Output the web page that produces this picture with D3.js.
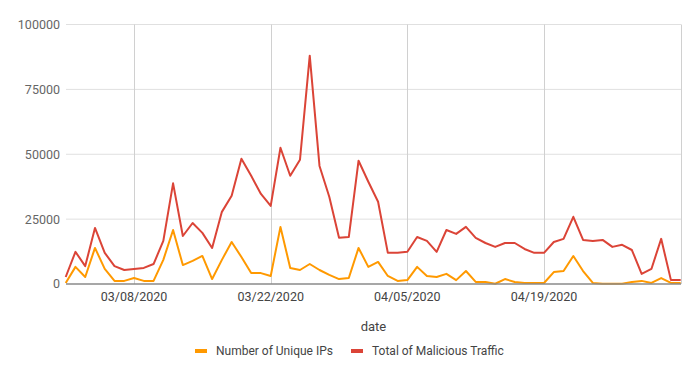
<!DOCTYPE html>
<html>
<head>
<meta charset="utf-8">
<script src="https://cdn.jsdelivr.net/npm/d3@7"></script>
<style>
  body { margin: 0; background: #fff; }
  text { font-family: Roboto, "Noto Sans", sans-serif; }
</style>
</head>
<body>
<div id="chart"></div>
<script>
// daily dates, 03/01/2020 .. 05/03/2020
var dates = [
  "2020-03-01","2020-03-02","2020-03-03","2020-03-04","2020-03-05","2020-03-06","2020-03-07",
  "2020-03-08","2020-03-09","2020-03-10","2020-03-11","2020-03-12","2020-03-13","2020-03-14",
  "2020-03-15","2020-03-16","2020-03-17","2020-03-18","2020-03-19","2020-03-20","2020-03-21",
  "2020-03-22","2020-03-23","2020-03-24","2020-03-25","2020-03-26","2020-03-27","2020-03-28",
  "2020-03-29","2020-03-30","2020-03-31","2020-04-01","2020-04-02","2020-04-03","2020-04-04",
  "2020-04-05","2020-04-06","2020-04-07","2020-04-08","2020-04-09","2020-04-10","2020-04-11",
  "2020-04-12","2020-04-13","2020-04-14","2020-04-15","2020-04-16","2020-04-17","2020-04-18",
  "2020-04-19","2020-04-20","2020-04-21","2020-04-22","2020-04-23","2020-04-24","2020-04-25",
  "2020-04-26","2020-04-27","2020-04-28","2020-04-29","2020-04-30","2020-05-01","2020-05-02",
  "2020-05-03"
];

var uniqueIPs = [
  400, 6600, 2700, 13900, 5800, 1200, 1200, 2300, 1200, 1200,
  9300, 20800, 7300, 8900, 10800, 1900, 9300, 16200, 10400, 4200,
  4200, 3100, 22000, 6200, 5400, 7700, 5400, 3500, 1900, 2300,
  13900, 6600, 8500, 3100, 1200, 1500, 6600, 3100, 2700, 3900,
  1500, 5000, 800, 800, 100, 1900, 800, 400, 400, 400,
  4600, 5000, 10800, 5000, 400, 100, 100, 100, 800, 1200,
  400, 2300, 400, 400
];

var maliciousTraffic = [
  2700, 12400, 6900, 21600, 12000, 6900, 5400, 5800, 6200, 7700,
  16600, 38800, 18500, 23500, 19700, 13900, 27800, 34000, 48300, 41700,
  34700, 30100, 52500, 41700, 47900, 88000, 45500, 33600, 17800, 18100,
  47500, 39400, 31700, 12000, 12000, 12400, 18100, 16600, 12400, 20800,
  19300, 22000, 17800, 15800, 14300, 15800, 15800, 13500, 12000, 12000,
  16200, 17400, 25900, 17000, 16600, 17000, 14300, 15100, 13100, 3900,
  5800, 17400, 1500, 1500
];

var yTicks = [0, 25000, 50000, 75000, 100000];
var xTicks = ["2020-03-08", "2020-03-22", "2020-04-05", "2020-04-19", "2020-05-03"];
var xTickLabels = ["03/08/2020", "03/22/2020", "04/05/2020", "04/19/2020", ""];

var seriesNames = ["Number of Unique IPs", "Total of Malicious Traffic"];
var seriesColors = ["#ff9900", "#db4437"];

var w = 700, h = 377;
var parse = d3.timeParse("%Y-%m-%d");

var svg = d3.select("#chart").append("svg")
    .attr("width", w)
    .attr("height", h);

var x = d3.scaleTime()
    .domain([parse(dates[0]), parse(dates[dates.length - 1])])
    .range([65.7, 680.7]);

var y = d3.scaleLinear()
    .domain([0, 100000])
    .range([284, 24.5]);

// horizontal gridlines
svg.append("g")
   .selectAll("line")
   .data(yTicks.filter(d => d > 0))
   .enter()
   .append("line")
   .attr("x1", 66).attr("x2", 681)
   .attr("y1", d => y(d)).attr("y2", d => y(d))
   .attr("stroke", "#e0e0e0")
   .attr("stroke-width", 1);

// vertical gridlines
svg.append("g")
   .selectAll("line")
   .data(xTicks)
   .enter()
   .append("line")
   .attr("x1", d => Math.round(x(parse(d))) + 0.5)
   .attr("x2", d => Math.round(x(parse(d))) + 0.5)
   .attr("y1", 24.5).attr("y2", 284)
   .attr("stroke", "#d0d0d0")
   .attr("stroke-width", 1);

// y labels
svg.append("g")
   .selectAll("text")
   .data(yTicks)
   .enter()
   .append("text")
   .attr("x", 60)
   .attr("y", d => y(d))
   .attr("dy", "0.35em")
   .attr("text-anchor", "end")
   .attr("font-size", 12.5)
   .attr("fill", "#666")
   .text(d => d);

// x labels
svg.append("g")
   .selectAll("text")
   .data(xTicks)
   .enter()
   .append("text")
   .attr("x", d => x(parse(d)))
   .attr("y", 297)
   .attr("dy", "0.35em")
   .attr("text-anchor", "middle")
   .attr("font-size", 12.5)
   .attr("fill", "#444")
   .text((d, i) => xTickLabels[i]);

// lines
var allSeries = [uniqueIPs, maliciousTraffic];
var line = d3.line()
    .x((d, i) => x(parse(dates[i])))
    .y(d => y(d));

svg.append("g")
   .selectAll("path")
   .data(allSeries)
   .enter()
   .append("path")
   .attr("d", line)
   .attr("fill", "none")
   .attr("stroke", (d, i) => seriesColors[i])
   .attr("stroke-width", 2)
   .attr("stroke-linejoin", "round");

// baseline
svg.append("line")
   .attr("x1", 66).attr("x2", 681)
   .attr("y1", y(0)).attr("y2", y(0))
   .attr("stroke", "#8a8a8a")
   .attr("stroke-width", 1.5);

// axis title
svg.append("text")
   .attr("x", 373.5)
   .attr("y", 326)
   .attr("dy", "0.35em")
   .attr("text-anchor", "middle")
   .attr("font-size", 13)
   .attr("fill", "#444")
   .text("date");

// legend
var legendX = [195, 351];
var legend = svg.append("g")
   .selectAll("g")
   .data(seriesNames)
   .enter()
   .append("g")
   .attr("transform", (d, i) => "translate(" + legendX[i] + ",351)");

legend.append("rect")
   .attr("x", 0).attr("y", -2)
   .attr("width", 12).attr("height", 4)
   .attr("fill", (d, i) => seriesColors[i]);

legend.append("text")
   .attr("x", 21)
   .attr("y", 0)
   .attr("dy", "0.35em")
   .attr("font-size", 12)
   .attr("fill", "#444")
   .text(d => d);
</script>
</body>
</html>
